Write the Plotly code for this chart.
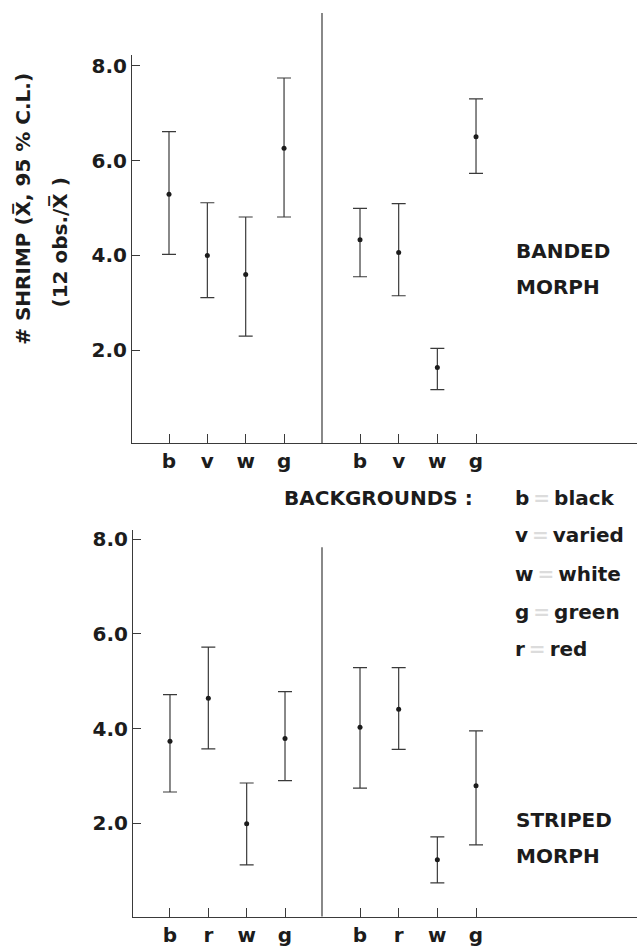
import plotly.graph_objects as go

# ---------------- data ----------------
banded_cats = ["b", "v", "w", "g"]
banded_left_mean = [5.29, 4.00, 3.60, 6.26]
banded_left_upper = [6.61, 5.11, 4.81, 7.74]
banded_left_lower = [4.02, 3.11, 2.30, 4.81]
banded_right_mean = [4.33, 4.06, 1.64, 6.50]
banded_right_upper = [4.99, 5.09, 2.04, 7.30]
banded_right_lower = [3.55, 3.15, 1.17, 5.73]

striped_cats = ["b", "r", "w", "g"]
striped_left_mean = [3.73, 4.64, 1.99, 3.79]
striped_left_upper = [4.72, 5.72, 2.85, 4.78]
striped_left_lower = [2.66, 3.57, 1.12, 2.90]
striped_right_mean = [4.03, 4.41, 1.23, 2.79]
striped_right_upper = [5.29, 5.29, 1.71, 3.95]
striped_right_lower = [2.74, 3.56, 0.74, 1.54]

y_tickvals = [2, 4, 6, 8]
y_ticktext = ["2.0", "4.0", "6.0", "8.0"]

legend_keys = ["b", "v", "w", "g", "r"]
legend_names = ["black", "varied", "white", "green", "red"]

# ---------------- style ----------------
W, H = 637, 947
INK = "#1c1c1c"
LINE = "#3a3a3a"
FONT = dict(family="DejaVu Sans", size=20, color=INK, weight="bold")


def px_x(p):
    return p / W


def px_y(p):
    return 1 - p / H


fig = go.Figure()


def add_series(cats, mean, upper, lower, xa, ya):
    fig.add_trace(go.Scatter(
        x=cats, y=mean, mode="markers", xaxis=xa, yaxis=ya,
        marker=dict(size=5, color=INK),
        error_y=dict(type="data", symmetric=False,
                     array=[u - m for u, m in zip(upper, mean)],
                     arrayminus=[m - l for m, l in zip(mean, lower)],
                     color=LINE, thickness=1.2, width=7),
        showlegend=False, hoverinfo="skip"))


add_series(banded_cats, banded_left_mean, banded_left_upper, banded_left_lower, "x", "y")
add_series(banded_cats, banded_right_mean, banded_right_upper, banded_right_lower, "x2", "y")
add_series(striped_cats, striped_left_mean, striped_left_upper, striped_left_lower, "x3", "y2")
add_series(striped_cats, striped_right_mean, striped_right_upper, striped_right_lower, "x4", "y2")

xcommon = dict(type="category", showline=True, linecolor=LINE, linewidth=1,
               ticks="inside", ticklen=9, tickcolor=LINE, tickwidth=1,
               showgrid=False, zeroline=False, tickfont=FONT, fixedrange=True)
ycommon = dict(tickvals=y_tickvals, ticktext=y_ticktext,
               showline=True, linecolor=LINE, linewidth=1,
               ticks="inside", ticklen=8, tickcolor=LINE, tickwidth=1,
               showgrid=False, zeroline=False, tickfont=FONT, fixedrange=True)

top_dom = [px_y(445), px_y(53)]
bot_dom = [px_y(923.3), px_y(533)]

fig.update_layout(
    width=W, height=H,
    margin=dict(l=0, r=0, t=0, b=0),
    paper_bgcolor="white", plot_bgcolor="white",
    font=FONT,
    xaxis=dict(xcommon, domain=[px_x(132), px_x(322)], range=[-0.965, 3.99], anchor="y"),
    xaxis2=dict(xcommon, domain=[px_x(322), 1.0], range=[-0.983, 7.163], anchor="y"),
    xaxis3=dict(xcommon, domain=[px_x(133), px_x(322)], range=[-0.965, 3.965], anchor="y2"),
    xaxis4=dict(xcommon, domain=[px_x(322), 1.0], range=[-0.983, 7.163], anchor="y2"),
    yaxis=dict(ycommon, domain=top_dom, range=[0.04, 8.215], anchor="x"),
    yaxis2=dict(ycommon, domain=bot_dom, range=[0.027, 8.19], anchor="x3"),
)

# divider lines between panels
fig.add_shape(type="line", xref="x2 domain", yref="paper", x0=0, x1=0,
              y0=px_y(445), y1=px_y(10), line=dict(color=LINE, width=1.2))
fig.add_shape(type="line", xref="x4 domain", yref="paper", x0=0, x1=0,
              y0=px_y(923.3), y1=px_y(550), line=dict(color=LINE, width=1.2))

# y-axis title (two rotated lines)
fig.add_annotation(text="# SHRIMP (X\u0305, 95 % C.L.)", textangle=-90,
                   xref="paper", yref="paper", x=px_x(23), y=px_y(208),
                   xanchor="center", yanchor="middle", showarrow=False, font=FONT)
fig.add_annotation(text="(12 obs./X\u0305 )", textangle=-90,
                   xref="paper", yref="paper", x=px_x(60), y=px_y(242),
                   xanchor="center", yanchor="middle", showarrow=False, font=FONT)

# morph labels
for txt, yc in [("BANDED", 251), ("MORPH", 287), ("STRIPED", 826), ("MORPH", 862)]:
    fig.add_annotation(text=txt, xref="paper", yref="paper", x=px_x(514), y=px_y(yc),
                       xanchor="left", yanchor="middle", showarrow=False, font=FONT)

# backgrounds legend
fig.add_annotation(text="BACKGROUNDS :", xref="paper", yref="paper",
                   x=px_x(475), y=px_y(500), xanchor="right", yanchor="middle",
                   showarrow=False, font=FONT)
legend_y = [500, 538, 577, 615, 653]
for k, name, yc in zip(legend_keys, legend_names, legend_y):
    fig.add_annotation(text=f"{k}<span style='color:#dcdcdc'>\u2009=\u2009</span>{name}",
                       xref="paper", yref="paper", x=px_x(513), y=px_y(yc),
                       xanchor="left", yanchor="middle", showarrow=False, font=FONT)

fig.write_html("out.html")
